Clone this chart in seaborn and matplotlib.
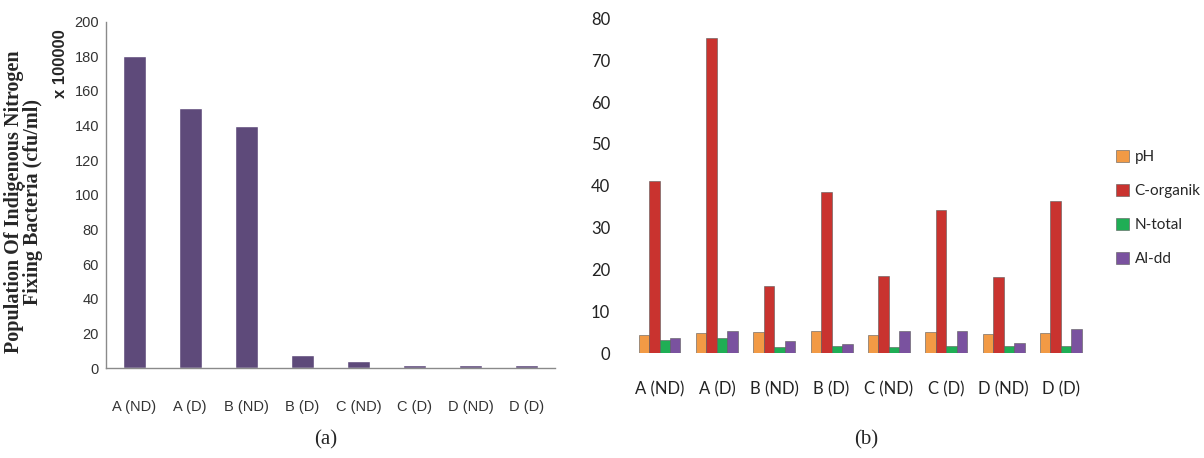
import pandas as pd
import seaborn as sns
import matplotlib.pyplot as plt

# data
sites = ['A (ND)', 'A (D)', 'B (ND)', 'B (D)', 'C (ND)', 'C (D)', 'D (ND)', 'D (D)']
population = [180, 150, 140, 7.7, 4.2, 2.1, 2.1, 2.1]

ph = [4.3, 4.9, 5.0, 5.3, 4.3, 5.0, 4.5, 4.9]
c_organik = [41.2, 75.2, 16.1, 38.6, 18.4, 34.2, 18.2, 36.3]
n_total = [3.1, 3.6, 1.4, 1.6, 1.4, 1.6, 1.6, 1.8]
al_dd = [3.6, 5.3, 2.9, 2.1, 5.3, 5.3, 2.4, 5.7]
params = ['pH', 'C-organik', 'N-total', 'Al-dd']
colors = ['#F29A45', '#C9332F', '#1FAE55', '#7A529F']

sns.set_style('white')

fig = plt.figure(figsize=(12.04, 4.58), dpi=100)
ax1 = fig.add_axes([0.088, 0.196, 0.373, 0.757])
ax2 = fig.add_axes([0.524, 0.229, 0.381, 0.731])

# (a) bakteri
df_a = pd.DataFrame({'site': sites, 'pop': population})
sns.barplot(data=df_a, x='site', y='pop', color='#5E4A7A', width=0.41,
            saturation=1, ax=ax1)
ax1.set_xlim(-0.5, 7.5)
ax1.set_ylim(0, 200)
ax1.set_yticks(range(0, 201, 20))
ax1.set_xlabel('')
ax1.set_ylabel('Population Of Indigenous Nitrogen\nFixing Bacteria (cfu/ml)',
               family='Liberation Serif', fontweight='bold', fontsize=14.5,
               linespacing=0.92, va='center', ha='center')
ax1.yaxis.set_label_coords(-0.183, 0.48)
for s in ['top', 'right']:
    ax1.spines[s].set_visible(False)
for s in ['left', 'bottom']:
    ax1.spines[s].set_color('#8A8A8A')
    ax1.spines[s].set_linewidth(1.0)
ax1.tick_params(axis='both', length=0, labelsize=10.5, labelcolor='#333333')
ax1.tick_params(axis='y', pad=5)
ax1.tick_params(axis='x', pad=23)
for lab in ax1.get_xticklabels() + ax1.get_yticklabels():
    lab.set_fontfamily('Liberation Sans')
fig.text(0.0505, 0.86, 'x 100000', rotation=90, fontweight='bold',
         fontsize=12, ha='center', va='center', family='Liberation Sans')

# (b) sifat tanah
df_b = pd.DataFrame({
    'site': sites * 4,
    'param': [p for p in params for _ in sites],
    'value': ph + c_organik + n_total + al_dd,
})
sns.barplot(data=df_b, x='site', y='value', hue='param', hue_order=params,
            palette=colors, width=0.73, saturation=1, edgecolor='#5a5a5a',
            linewidth=0.4, ax=ax2)
ax2.set_xlim(-0.5, 7.5)
ax2.set_ylim(0, 80)
ax2.set_yticks(range(0, 81, 10))
ax2.set_xlabel('')
ax2.set_ylabel('')
sns.despine(ax=ax2, left=True, bottom=True)
ax2.tick_params(axis='both', length=0, labelsize=12, labelcolor='#222222')
ax2.tick_params(axis='y', pad=15)
ax2.tick_params(axis='x', pad=20)
for lab in ax2.get_xticklabels() + ax2.get_yticklabels():
    lab.set_fontfamily('Lato')
ax2.legend(loc='upper left', bbox_to_anchor=(1.045, 0.625), frameon=False,
           prop={'family': 'Lato', 'size': 11}, labelspacing=1.3,
           handlelength=0.8, handleheight=0.8, handletextpad=0.4,
           borderaxespad=0)

fig.text(326 / 1204, 1 - 440 / 458, '(a)', ha='center', va='center',
         family='Liberation Serif', fontsize=15)
fig.text(866 / 1204, 1 - 440 / 458, '(b)', ha='center', va='center',
         family='Liberation Serif', fontsize=15)

fig.savefig('out.png', dpi=100)
